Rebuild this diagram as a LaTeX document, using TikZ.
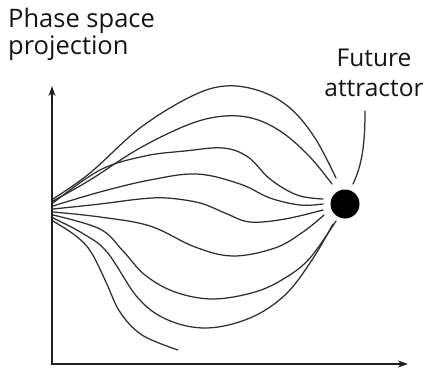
\documentclass[tikz,border=0pt]{standalone}
\usepackage{fontspec}
\setmainfont{Open Sans}
\usetikzlibrary{arrows.meta}
\begin{document}
\begin{tikzpicture}[x=1pt,y=-1pt,
  axis/.style={line width=2pt,draw=black!88,-{Stealth[length=10pt,width=7pt,inset=3pt]}},
  traj/.style={line width=1.25pt,draw=black!82,line cap=round},
  lbl/.style={inner sep=0pt,font=\fontsize{24.5}{27}\selectfont,text=black!92},
  biglbl/.style={lbl,font=\fontsize{25.5}{27}\selectfont}]
\useasboundingbox (0,0) rectangle (424,370);
% axes
\coordinate (O) at (52,364);
\coordinate (ytop) at (52,86);
\coordinate (xend) at (408,364);
\draw[axis] (O) -- (ytop);
\draw[axis] ([xshift=-1pt]O) -- (xend);
% attractor
\node[circle,fill=black,minimum size=29pt,inner sep=0pt] (ball) at (345,204) {};
% labels
\node[biglbl,anchor=base west] (t1) at (8,27) {Phase space};
\node[biglbl,anchor=base west] (t2) at (8,54) {projection};
\node[lbl,anchor=base] (f1) at (374,66) {Future};
\node[lbl,anchor=base] (f2) at (374,96) {attractor};
\coordinate (ps) at (365,111);
\coordinate (pe) at (353,184);
\draw[traj] (ps) .. controls (365,145) and (362,165) .. (pe);
% trajectories
\draw[traj] plot[smooth,tension=0.6] coordinates {(53,199) (90,173) (140,128) (190,97) (225,86) (260,91) (290,108) (315,138) (336,178)};
\draw[traj] plot[smooth,tension=0.6] coordinates {(53,201) (90,180) (140,148) (190,124) (225,116) (255,119) (283,133) (310,157) (332,184)};
\draw[traj] plot[smooth,tension=0.6] coordinates {(53,203) (100,170) (145,156) (185,151) (223,148) (248,157) (270,179) (297,195) (323,199)};
\draw[traj] plot[smooth,tension=0.6] coordinates {(53,206) (100,192) (150,180) (197,174) (240,184) (270,198) (300,205) (323,204)};
\draw[traj] plot[smooth,tension=0.6] coordinates {(53,209) (100,204) (140,199) (167,198) (200,203) (225,213) (250,222) (285,219) (323,210)};
\draw[traj] plot[smooth,tension=0.6] coordinates {(53,212) (100,217) (150,226) (195,247) (233,256) (275,248) (303,232) (324,215)};
\draw[traj] plot[smooth,tension=0.6] coordinates {(53,215) (100,229) (123,251) (145,275) (175,292) (213,299) (255,292) (285,278) (310,258) (336,221)};
\draw[traj] plot[smooth,tension=0.6] coordinates {(53,218) (82,233) (107,252) (138,298) (168,320) (207,328) (250,318) (285,295) (312,260) (333,224)};
\draw[traj] plot[smooth,tension=0.6] coordinates {(53,221) (76,236) (91,252) (106,282) (120,312) (142,335) (178,350)};
\end{tikzpicture}
\end{document}
